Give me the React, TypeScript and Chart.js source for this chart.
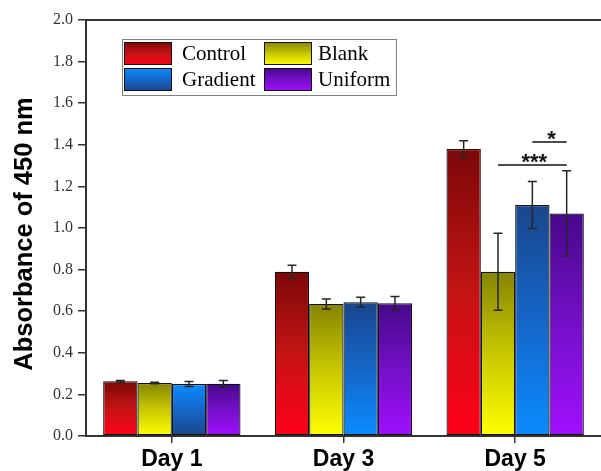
import { useEffect, useRef } from 'react';
import { Chart, registerables } from 'chart.js';

Chart.register(...registerables);

// ---- data ----
const categories = ['Day 1', 'Day 3', 'Day 5'];
const seriesNames = ['Control', 'Blank', 'Gradient', 'Uniform'];
const controlValues = [0.263, 0.79, 1.38];
const blankValues = [0.255, 0.635, 0.79];
const gradientValues = [0.25, 0.643, 1.11];
const uniformValues = [0.251, 0.638, 1.07];
const controlErrors = [0.004, 0.031, 0.04];
const blankErrors = [0.004, 0.024, 0.185];
const gradientErrors = [0.012, 0.024, 0.113];
const uniformErrors = [0.016, 0.033, 0.205];
const yTickValues = [0, 0.2, 0.4, 0.6, 0.8, 1.0, 1.2, 1.4, 1.6, 1.8, 2.0];
const yTitle = 'Absorbance of 450 nm';
const sigCategory = [2, 2];
const sigFrom = [1, 2];
const sigTo = [3, 3];
const sigLevel = [1.303, 1.413];
const sigLabels = ['***', '*'];

// ---- styles ----
const seriesValues = [controlValues, blankValues, gradientValues, uniformValues];
const seriesErrors = [controlErrors, blankErrors, gradientErrors, uniformErrors];
const gradientStops: string[][] = [
  ['#7c0808', '#c41414', '#ff0018'],
  ['#858500', '#c8c800', '#ffff00'],
  ['#1a468c', '#1566c8', '#0a8cff'],
  ['#46088a', '#7410c8', '#a010ff'],
];
const flipBars: boolean[][] = [
  [false, false, false],
  [false, false, false],
  [true, false, false],
  [false, false, false],
];
const flipLegend = [false, false, true, false];

function makeGradient(ctx: CanvasRenderingContext2D, y0: number, y1: number, stops: string[], flip: boolean) {
  const g = ctx.createLinearGradient(0, y0, 0, y1);
  const s = flip ? [...stops].reverse() : stops;
  s.forEach((c, i) => g.addColorStop(i / (s.length - 1), c));
  return g;
}

const decorPlugin = {
  id: 'decor',
  afterDatasetsDraw(chart: any) {
    const ctx: CanvasRenderingContext2D = chart.ctx;
    const y = chart.scales.y;
    ctx.save();
    // error bars
    ctx.strokeStyle = '#262626';
    ctx.lineWidth = 1.5;
    chart.data.datasets.forEach((ds: any, di: number) => {
      const meta = chart.getDatasetMeta(di);
      meta.data.forEach((bar: any, i: number) => {
        const v = ds.data[i];
        const e = seriesErrors[di][i];
        const yt = y.getPixelForValue(v + e);
        const yb = y.getPixelForValue(v - e);
        const x = bar.x;
        const cap = 4.5;
        ctx.beginPath();
        ctx.moveTo(x, yt);
        ctx.lineTo(x, yb);
        ctx.moveTo(x - cap, yt);
        ctx.lineTo(x + cap, yt);
        ctx.moveTo(x - cap, yb);
        ctx.lineTo(x + cap, yb);
        ctx.stroke();
      });
    });
    // significance brackets
    sigLabels.forEach((label, k) => {
      const a = chart.getDatasetMeta(sigFrom[k]).data[sigCategory[k]];
      const b = chart.getDatasetMeta(sigTo[k]).data[sigCategory[k]];
      const ly = y.getPixelForValue(sigLevel[k]);
      ctx.strokeStyle = '#111';
      ctx.lineWidth = 1.5;
      ctx.beginPath();
      ctx.moveTo(a.x, ly);
      ctx.lineTo(b.x, ly);
      ctx.stroke();
      ctx.fillStyle = '#111';
      ctx.font = 'bold 22px "Liberation Sans", Arial, sans-serif';
      ctx.textAlign = 'center';
      ctx.textBaseline = 'alphabetic';
      ctx.fillText(label, (a.x + b.x) / 2 + 2, ly + 4);
    });
    ctx.restore();
  },
  afterDraw(chart: any) {
    const ctx: CanvasRenderingContext2D = chart.ctx;
    const area = chart.chartArea;
    ctx.save();
    // top frame line
    ctx.strokeStyle = '#333';
    ctx.lineWidth = 2;
    ctx.beginPath();
    ctx.moveTo(area.left, area.top);
    ctx.lineTo(area.right, area.top);
    ctx.stroke();
    // y axis title
    ctx.save();
    ctx.translate(25, (area.top + area.bottom) / 2 + 6);
    ctx.rotate(-Math.PI / 2);
    ctx.fillStyle = '#000';
    ctx.font = 'bold 25.5px "Liberation Sans", Arial, sans-serif';
    ctx.textAlign = 'center';
    ctx.textBaseline = 'middle';
    ctx.fillText(yTitle, 0, 0);
    ctx.restore();
    // legend
    const lx = area.left + 36;
    const ly = area.top + 19;
    const bw = 274;
    const bh = 56;
    ctx.fillStyle = '#fff';
    ctx.fillRect(lx, ly, bw, bh);
    ctx.strokeStyle = '#808080';
    ctx.lineWidth = 1;
    ctx.strokeRect(lx + 0.5, ly + 0.5, bw, bh);
    const colSw = [2, 142];
    const colTx = [60, 196];
    const rowSw = [3, 29];
    chart.data.datasets.forEach((ds: any, i: number) => {
      const col = i % 2;
      const row = Math.floor(i / 2);
      const sx = lx + colSw[col];
      const sy = ly + rowSw[row];
      const sw = 48;
      const sh = 23;
      ctx.fillStyle = makeGradient(ctx, sy, sy + sh, gradientStops[i], flipLegend[i]);
      ctx.fillRect(sx, sy, sw, sh);
      ctx.strokeStyle = '#111';
      ctx.lineWidth = 1;
      ctx.strokeRect(sx + 0.5, sy + 0.5, sw - 1, sh - 1);
      ctx.fillStyle = '#000';
      ctx.font = '21px "Liberation Serif", "Times New Roman", serif';
      ctx.textAlign = 'left';
      ctx.textBaseline = 'middle';
      ctx.fillText(ds.label, lx + colTx[col], sy + sh / 2 + 1);
    });
    ctx.restore();
  },
};

export default function App() {
  const ref = useRef<HTMLCanvasElement | null>(null);
  useEffect(() => {
    document.body.style.margin = '0';
    if (!ref.current) return;
    const datasets = seriesNames.map((name, di) => ({
      label: name,
      data: seriesValues[di],
      backgroundColor: (c: any) => {
        const chart = c.chart;
        const stops = gradientStops[di];
        if (!chart.chartArea || c.type !== 'data') return stops[stops.length - 1];
        const ys = chart.scales.y;
        const top = ys.getPixelForValue(c.parsed ? c.parsed.y : seriesValues[di][c.dataIndex]);
        const base = ys.getPixelForValue(0);
        return makeGradient(chart.ctx, top, base, stops, flipBars[di][c.dataIndex]);
      },
      borderColor: '#111',
      borderWidth: 1.2,
      borderSkipped: false,
      categoryPercentage: 0.8,
      barPercentage: 1.0,
    }));
    const chart = new Chart(ref.current, {
      type: 'bar',
      data: { labels: categories, datasets },
      options: {
        animation: false,
        responsive: false,
        devicePixelRatio: 1,
        layout: { padding: { top: 20, left: 50, right: 0, bottom: 0 } },
        plugins: { legend: { display: false }, tooltip: { enabled: false } },
        scales: {
          x: {
            offset: true,
            grid: { offset: false, drawOnChartArea: false, drawTicks: true, tickLength: 7, color: '#333', lineWidth: 1.5 },
            border: { display: true, color: '#333', width: 2 },
            ticks: {
              color: '#000',
              padding: 3,
              font: { family: '"Liberation Sans", Arial, sans-serif', size: 23, weight: 'bold' },
            },
            afterFit: (s: any) => { s.height = 35; },
          },
          y: {
            min: 0,
            max: 2,
            afterBuildTicks: (s: any) => { s.ticks = yTickValues.map((v) => ({ value: v })); },
            grid: { drawOnChartArea: false, drawTicks: true, tickLength: 8, color: '#333', lineWidth: 1.5 },
            border: { display: true, color: '#333', width: 2 },
            ticks: {
              color: '#333',
              padding: 5,
              font: { family: '"Liberation Serif", "Times New Roman", serif', size: 16 },
              callback: (v: any) => Number(v).toFixed(1),
            },
            afterFit: (s: any) => { s.width = 36; },
          },
        },
      },
      plugins: [decorPlugin],
    } as any);
    return () => chart.destroy();
  }, []);
  return (
    <div style={{ width: 601, height: 471 }}>
      <canvas ref={ref} width={601} height={471} style={{ display: 'block' }} />
    </div>
  );
}
